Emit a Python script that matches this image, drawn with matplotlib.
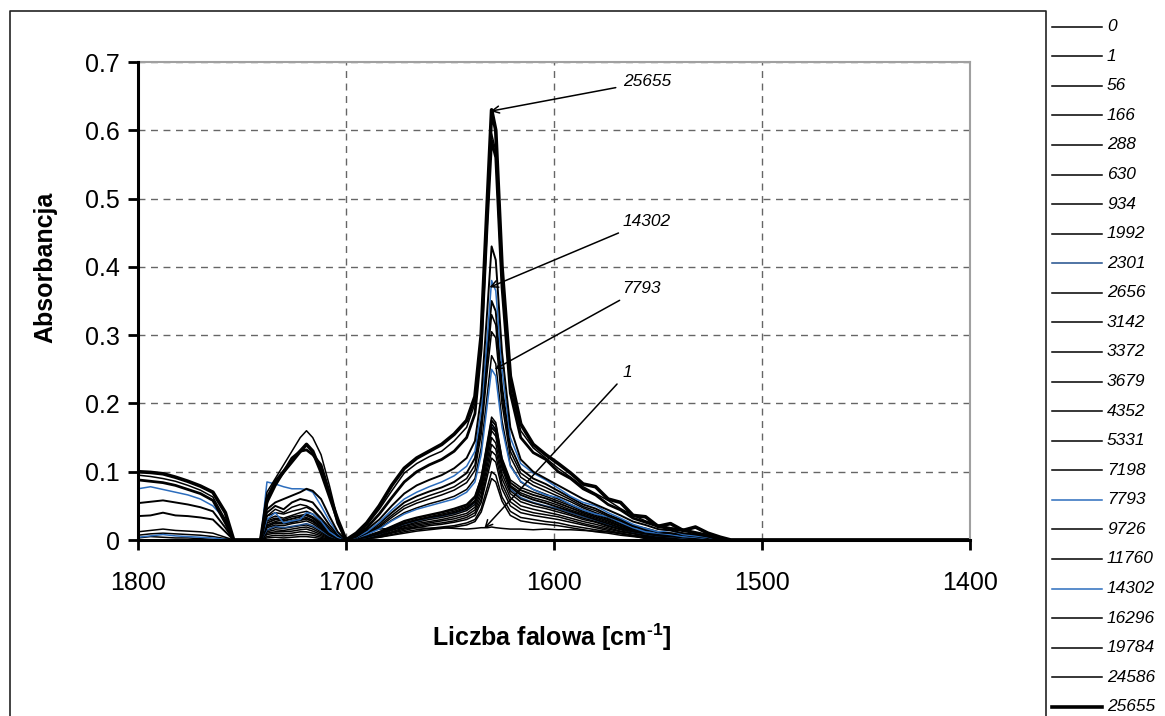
import matplotlib
matplotlib.use('Agg')
import matplotlib.pyplot as plt
from matplotlib.lines import Line2D

plt.rcParams['font.family'] = ['Liberation Sans', 'DejaVu Sans']
plt.rcParams['mathtext.fontset'] = 'custom'
plt.rcParams['mathtext.rm'] = 'Liberation Sans:bold'
plt.rcParams['mathtext.bf'] = 'Liberation Sans:bold'

W, H = 1165, 716

# wavenumber grid (cm-1)
wavenumber = [1800, 1794, 1788, 1782, 1776, 1770, 1764, 1758, 1754,
              1741, 1738, 1734, 1730, 1726, 1722, 1719, 1716, 1712, 1708, 1704,
              1700, 1695, 1690, 1684, 1678, 1672, 1666, 1660, 1654, 1648, 1642, 1638, 1635, 1632, 1630, 1628, 1625, 1621,
              1616, 1610, 1604, 1598, 1592, 1586, 1580, 1574, 1568, 1562, 1556, 1550, 1544, 1538, 1532, 1526, 1520, 1515,
              1400]

s_0 = [0, 0, 0, 0, 0, 0, 0, 0, 0,
       0, 0, 0, 0, 0, 0, 0, 0, 0, 0, 0,
       0, 0, 0, 0, 0, 0, 0, 0, 0, 0, 0, 0, 0, 0, 0, 0, 0, 0,
       0, 0, 0, 0, 0, 0, 0, 0, 0, 0, 0, 0, 0, 0, 0, 0, 0, 0,
       0]
s_1 = [0, 0, 0, 0, 0, 0, 0, 0, 0,
       0, 0, 0, 0, 0, 0, 0, 0, 0, 0, 0,
       0, 0.008, 0.014, 0.016, 0.017, 0.017, 0.018, 0.017, 0.018, 0.017, 0.016, 0.017, 0.018, 0.018, 0.019, 0.018, 0.017, 0.016,
       0.016, 0.015, 0.016, 0.015, 0.015, 0.014, 0.013, 0.012, 0.010, 0.006, 0.002, 0, 0, 0, 0, 0, 0, 0,
       0]
s_56 = [0, 0, 0, 0, 0, 0, 0, 0, 0,
        0, 0.003, 0.004, 0.003, 0.004, 0.005, 0.005, 0.004, 0.002, 0.001, 0,
        0, 0, 0.002, 0.004, 0.007, 0.010, 0.013, 0.015, 0.017, 0.019, 0.022, 0.027, 0.041, 0.070, 0.090, 0.085, 0.057, 0.036,
        0.028, 0.025, 0.023, 0.021, 0.018, 0.015, 0.012, 0.010, 0.007, 0.005, 0.003, 0.002, 0.001, 0.001, 0, 0, 0, 0,
        0]
s_166 = [0, 0, 0, 0, 0, 0, 0, 0, 0,
         0, 0.005, 0.007, 0.006, 0.007, 0.008, 0.008, 0.007, 0.004, 0.001, 0,
         0, 0.001, 0.002, 0.004, 0.008, 0.012, 0.015, 0.017, 0.019, 0.021, 0.025, 0.030, 0.046, 0.078, 0.100, 0.095, 0.063, 0.042,
         0.033, 0.030, 0.027, 0.025, 0.021, 0.018, 0.015, 0.012, 0.009, 0.006, 0.004, 0.002, 0.002, 0.001, 0.001, 0, 0, 0,
         0]
s_288 = [0, 0, 0, 0, 0, 0, 0, 0, 0,
         0, 0.008, 0.010, 0.009, 0.010, 0.012, 0.012, 0.010, 0.006, 0.002, 0,
         0, 0.001, 0.002, 0.005, 0.010, 0.014, 0.018, 0.021, 0.023, 0.026, 0.030, 0.036, 0.055, 0.094, 0.120, 0.114, 0.075, 0.050,
         0.040, 0.036, 0.033, 0.030, 0.026, 0.022, 0.018, 0.014, 0.010, 0.007, 0.005, 0.003, 0.002, 0.002, 0.001, 0, 0, 0,
         0]
s_630 = [0, 0, 0, 0, 0, 0, 0, 0, 0,
         0, 0.010, 0.012, 0.012, 0.013, 0.015, 0.016, 0.013, 0.008, 0.003, 0.001,
         0, 0.001, 0.003, 0.006, 0.011, 0.016, 0.020, 0.023, 0.025, 0.028, 0.033, 0.040, 0.060, 0.102, 0.130, 0.124, 0.082, 0.056,
         0.045, 0.040, 0.037, 0.034, 0.029, 0.024, 0.020, 0.016, 0.012, 0.009, 0.006, 0.004, 0.003, 0.002, 0.001, 0.001, 0, 0,
         0]
s_934 = [0, 0, 0, 0, 0, 0, 0, 0, 0,
         0, 0.012, 0.015, 0.014, 0.016, 0.018, 0.019, 0.016, 0.010, 0.004, 0.001,
         0, 0.001, 0.003, 0.007, 0.012, 0.018, 0.022, 0.025, 0.028, 0.031, 0.036, 0.044, 0.066, 0.110, 0.140, 0.133, 0.090, 0.062,
         0.050, 0.045, 0.041, 0.037, 0.032, 0.027, 0.023, 0.018, 0.013, 0.010, 0.007, 0.005, 0.004, 0.002, 0.001, 0.001, 0, 0,
         0]
s_1992 = [0, 0, 0, 0, 0, 0, 0, 0, 0,
          0, 0.014, 0.018, 0.017, 0.019, 0.021, 0.022, 0.019, 0.012, 0.005, 0.001,
          0, 0.001, 0.004, 0.008, 0.014, 0.020, 0.024, 0.027, 0.030, 0.034, 0.039, 0.048, 0.072, 0.118, 0.150, 0.142, 0.097, 0.068,
          0.056, 0.050, 0.046, 0.041, 0.036, 0.030, 0.026, 0.020, 0.015, 0.011, 0.008, 0.006, 0.005, 0.003, 0.002, 0.001, 0, 0,
          0]
s_2301 = [0, 0, 0, 0, 0, 0, 0, 0, 0,
          0, 0.015, 0.020, 0.018, 0.020, 0.022, 0.024, 0.021, 0.014, 0.006, 0.002,
          0, 0.002, 0.004, 0.009, 0.016, 0.023, 0.028, 0.032, 0.035, 0.039, 0.045, 0.055, 0.085, 0.135, 0.170, 0.160, 0.110, 0.075,
          0.062, 0.055, 0.050, 0.046, 0.040, 0.034, 0.029, 0.022, 0.017, 0.012, 0.009, 0.006, 0.005, 0.003, 0.002, 0.001, 0, 0,
          0]
s_2656 = [0, 0, 0, 0, 0, 0, 0, 0, 0,
          0, 0.018, 0.022, 0.021, 0.024, 0.026, 0.028, 0.024, 0.016, 0.007, 0.002,
          0, 0.002, 0.004, 0.009, 0.015, 0.021, 0.026, 0.030, 0.033, 0.037, 0.043, 0.052, 0.078, 0.126, 0.160, 0.152, 0.105, 0.072,
          0.060, 0.054, 0.049, 0.044, 0.038, 0.032, 0.027, 0.021, 0.016, 0.012, 0.009, 0.006, 0.005, 0.004, 0.002, 0.001, 0, 0,
          0]
s_3142 = [0, 0, 0, 0, 0, 0, 0, 0, 0,
          0, 0.020, 0.025, 0.024, 0.026, 0.029, 0.031, 0.027, 0.018, 0.008, 0.002,
          0, 0.002, 0.005, 0.010, 0.017, 0.024, 0.029, 0.033, 0.036, 0.040, 0.046, 0.056, 0.083, 0.132, 0.165, 0.158, 0.110, 0.078,
          0.066, 0.059, 0.054, 0.048, 0.042, 0.036, 0.030, 0.024, 0.018, 0.013, 0.010, 0.007, 0.006, 0.004, 0.003, 0.001, 0, 0,
          0]
s_3372 = [0, 0, 0, 0, 0, 0, 0, 0, 0,
          0, 0.022, 0.027, 0.025, 0.028, 0.031, 0.033, 0.029, 0.020, 0.009, 0.003,
          0, 0.002, 0.005, 0.010, 0.018, 0.025, 0.030, 0.034, 0.038, 0.042, 0.048, 0.058, 0.086, 0.136, 0.170, 0.162, 0.112, 0.080,
          0.069, 0.062, 0.057, 0.051, 0.044, 0.038, 0.032, 0.026, 0.020, 0.014, 0.011, 0.008, 0.006, 0.004, 0.003, 0.001, 0, 0,
          0]
s_3679 = [0, 0, 0, 0, 0, 0, 0, 0, 0,
          0, 0.025, 0.030, 0.028, 0.031, 0.034, 0.036, 0.032, 0.022, 0.010, 0.003,
          0, 0.002, 0.006, 0.012, 0.020, 0.028, 0.033, 0.037, 0.041, 0.046, 0.052, 0.064, 0.090, 0.140, 0.175, 0.168, 0.117, 0.084,
          0.073, 0.066, 0.061, 0.054, 0.047, 0.040, 0.034, 0.028, 0.021, 0.015, 0.012, 0.009, 0.007, 0.005, 0.003, 0.001, 0, 0,
          0]
s_4352 = [0, 0, 0, 0, 0, 0, 0, 0, 0,
          0, 0.028, 0.032, 0.030, 0.034, 0.036, 0.038, 0.034, 0.024, 0.012, 0.004,
          0, 0.002, 0.005, 0.011, 0.019, 0.027, 0.032, 0.036, 0.040, 0.044, 0.050, 0.062, 0.092, 0.145, 0.180, 0.172, 0.120, 0.088,
          0.077, 0.070, 0.064, 0.057, 0.050, 0.042, 0.036, 0.030, 0.023, 0.016, 0.013, 0.009, 0.008, 0.005, 0.003, 0.001, 0, 0,
          0]
s_5331 = [0.003, 0.005, 0.004, 0.003, 0.003, 0.002, 0.001, 0, 0,
          0, 0.030, 0.035, 0.032, 0.036, 0.040, 0.042, 0.038, 0.026, 0.013, 0.004,
          0, 0.003, 0.008, 0.017, 0.029, 0.040, 0.047, 0.053, 0.058, 0.064, 0.074, 0.090, 0.135, 0.215, 0.270, 0.258, 0.175, 0.110,
          0.085, 0.074, 0.067, 0.060, 0.052, 0.044, 0.038, 0.031, 0.024, 0.017, 0.014, 0.010, 0.009, 0.006, 0.004, 0.002, 0, 0,
          0]
s_7198 = [0.007, 0.009, 0.010, 0.009, 0.008, 0.007, 0.005, 0.002, 0,
          0, 0.035, 0.040, 0.038, 0.042, 0.045, 0.048, 0.043, 0.030, 0.015, 0.005,
          0, 0.003, 0.009, 0.019, 0.033, 0.046, 0.054, 0.060, 0.066, 0.073, 0.084, 0.102, 0.155, 0.250, 0.305, 0.296, 0.200, 0.122,
          0.092, 0.080, 0.072, 0.064, 0.056, 0.047, 0.040, 0.033, 0.026, 0.019, 0.015, 0.010, 0.009, 0.006, 0.005, 0.002, 0, 0,
          0]
s_7793 = [0.004, 0.006, 0.008, 0.006, 0.005, 0.004, 0.003, 0.001, 0,
          0, 0.030, 0.040, 0.025, 0.028, 0.030, 0.040, 0.038, 0.028, 0.012, 0.004,
          0, 0.003, 0.008, 0.016, 0.028, 0.038, 0.045, 0.050, 0.055, 0.060, 0.070, 0.085, 0.125, 0.200, 0.250, 0.240, 0.165, 0.108,
          0.086, 0.074, 0.066, 0.062, 0.052, 0.044, 0.038, 0.034, 0.026, 0.018, 0.012, 0.010, 0.008, 0.005, 0.004, 0.002, 0, 0,
          0]
s_9726 = [0.012, 0.014, 0.016, 0.014, 0.013, 0.012, 0.010, 0.004, 0,
          0, 0.035, 0.045, 0.040, 0.048, 0.052, 0.050, 0.045, 0.032, 0.018, 0.006,
          0, 0.003, 0.010, 0.021, 0.036, 0.050, 0.058, 0.065, 0.071, 0.078, 0.090, 0.110, 0.165, 0.265, 0.330, 0.315, 0.212, 0.130,
          0.098, 0.085, 0.077, 0.068, 0.059, 0.049, 0.043, 0.035, 0.028, 0.020, 0.016, 0.011, 0.010, 0.007, 0.005, 0.003, 0, 0,
          0]
s_11760 = [0.035, 0.036, 0.040, 0.036, 0.035, 0.033, 0.030, 0.012, 0,
           0, 0.040, 0.050, 0.045, 0.055, 0.060, 0.058, 0.055, 0.040, 0.022, 0.008,
           0, 0.004, 0.011, 0.024, 0.040, 0.055, 0.064, 0.071, 0.077, 0.085, 0.098, 0.120, 0.175, 0.280, 0.350, 0.335, 0.225, 0.138,
           0.104, 0.090, 0.082, 0.072, 0.062, 0.052, 0.046, 0.037, 0.030, 0.021, 0.017, 0.012, 0.010, 0.008, 0.006, 0.003, 0, 0,
           0]
s_14302 = [0.075, 0.078, 0.074, 0.070, 0.066, 0.060, 0.050, 0.030, 0,
           0, 0.085, 0.082, 0.078, 0.075, 0.075, 0.074, 0.070, 0.050, 0.028, 0.010,
           0, 0.004, 0.012, 0.026, 0.044, 0.060, 0.070, 0.078, 0.085, 0.094, 0.108, 0.130, 0.190, 0.300, 0.380, 0.365, 0.250, 0.150,
           0.112, 0.098, 0.088, 0.076, 0.064, 0.055, 0.050, 0.040, 0.032, 0.023, 0.017, 0.012, 0.014, 0.008, 0.006, 0.004, 0, 0,
           0]
s_16296 = [0.054, 0.056, 0.058, 0.055, 0.052, 0.048, 0.042, 0.018, 0,
           0, 0.045, 0.055, 0.060, 0.065, 0.070, 0.075, 0.072, 0.060, 0.035, 0.012,
           0, 0.005, 0.015, 0.030, 0.050, 0.068, 0.080, 0.088, 0.095, 0.105, 0.120, 0.145, 0.210, 0.340, 0.430, 0.410, 0.275, 0.165,
           0.118, 0.100, 0.090, 0.080, 0.070, 0.060, 0.052, 0.044, 0.036, 0.027, 0.022, 0.016, 0.014, 0.010, 0.008, 0.005, 0, 0,
           0]
s_19784 = [0.088, 0.086, 0.084, 0.080, 0.074, 0.068, 0.058, 0.025, 0,
           0, 0.055, 0.080, 0.100, 0.120, 0.130, 0.132, 0.125, 0.110, 0.070, 0.025,
           0, 0.006, 0.018, 0.038, 0.062, 0.085, 0.100, 0.110, 0.118, 0.130, 0.150, 0.185, 0.280, 0.470, 0.585, 0.560, 0.370, 0.215,
           0.150, 0.128, 0.118, 0.100, 0.090, 0.075, 0.066, 0.052, 0.044, 0.032, 0.026, 0.020, 0.016, 0.014, 0.010, 0.006, 0.002, 0,
           0]
s_24586 = [0.095, 0.093, 0.090, 0.086, 0.080, 0.073, 0.063, 0.030, 0,
           0, 0.070, 0.090, 0.110, 0.130, 0.150, 0.160, 0.150, 0.125, 0.080, 0.030,
           0, 0.008, 0.022, 0.045, 0.072, 0.098, 0.112, 0.122, 0.130, 0.145, 0.165, 0.200, 0.290, 0.480, 0.595, 0.570, 0.380, 0.225,
           0.160, 0.135, 0.120, 0.105, 0.092, 0.078, 0.068, 0.058, 0.046, 0.036, 0.028, 0.022, 0.018, 0.016, 0.012, 0.008, 0.003, 0,
           0]
s_25655 = [0.100, 0.099, 0.097, 0.092, 0.086, 0.079, 0.070, 0.040, 0,
           0, 0.060, 0.085, 0.100, 0.115, 0.130, 0.140, 0.130, 0.100, 0.065, 0.030,
           0, 0.010, 0.025, 0.050, 0.080, 0.105, 0.120, 0.130, 0.140, 0.155, 0.175, 0.210, 0.300, 0.500, 0.630, 0.600, 0.400, 0.240,
           0.170, 0.140, 0.125, 0.112, 0.098, 0.082, 0.078, 0.060, 0.055, 0.036, 0.034, 0.020, 0.024, 0.014, 0.019, 0.010, 0.004, 0,
           0]

labels = ['0', '1', '56', '166', '288', '630', '934', '1992', '2301', '2656', '3142', '3372',
          '3679', '4352', '5331', '7198', '7793', '9726', '11760', '14302', '16296', '19784', '24586', '25655']
series = [s_0, s_1, s_56, s_166, s_288, s_630, s_934, s_1992, s_2301, s_2656, s_3142, s_3372,
          s_3679, s_4352, s_5331, s_7198, s_7793, s_9726, s_11760, s_14302, s_16296, s_19784, s_24586, s_25655]

blue_dark, blue = '#1f4e8c', '#2c6dbd'
line_colors = {'2301': blue_dark, '7793': blue, '14302': blue}
line_widths = {'3142': 1.4, '3679': 1.4, '11760': 1.4, '16296': 1.4, '19784': 2.0, '25655': 2.6}

for lab, s in zip(labels, series):
    if len(s) != len(wavenumber):
        raise ValueError(f'{lab}: {len(s)} != {len(wavenumber)}')

fig = plt.figure(figsize=(W / 100, H / 100), dpi=100)
ax = fig.add_axes([138 / W, 1 - 540 / H, (970 - 138) / W, (540 - 62) / H])

for lab, s in zip(labels, series):
    ax.plot(wavenumber, s, color=line_colors.get(lab, 'black'), lw=line_widths.get(lab, 1.1), zorder=2)

ax.set_xlim(1800, 1400)
ax.set_ylim(0, 0.7)
ax.set_xticks([1800, 1700, 1600, 1500, 1400])
ax.set_yticks([0, 0.1, 0.2, 0.3, 0.4, 0.5, 0.6, 0.7])
ax.set_yticklabels(['0', '0.1', '0.2', '0.3', '0.4', '0.5', '0.6', '0.7'])
ax.grid(True, color='#666666', lw=1, linestyle=(0, (5, 4)), zorder=1)
ax.set_axisbelow(True)

for side in ['left', 'bottom']:
    ax.spines[side].set_linewidth(2.2)
    ax.spines[side].set_color('black')
    ax.spines[side].set_zorder(3)
for side in ['top', 'right']:
    ax.spines[side].set_linewidth(1.5)
    ax.spines[side].set_color('#a0a0a0')

ax.tick_params(axis='both', direction='out', length=7, width=2, labelsize=18, colors='black')
ax.tick_params(axis='y', pad=6)
ax.tick_params(axis='x', pad=15)

fig.text(45 / W, 1 - 267 / H, 'Absorbancja', rotation=90, ha='center', va='center',
         fontsize=18, fontweight='bold')
fig.text(552 / W, 1 - 637 / H, r'Liczba falowa [cm$^{\text{-1}}$]', ha='center', va='center',
         fontsize=18, fontweight='bold')

# arrows pointing at selected spectra
notes = [('25655', 1630.5, 0.628, 0.671),
         ('14302', 1631.0, 0.370, 0.467),
         ('7793', 1628.5, 0.250, 0.369),
         ('1', 1633.5, 0.017, 0.245)]
for text, xp, yp, ty in notes:
    ax.annotate(text, xy=(xp, yp), xytext=(1567, ty), fontsize=12.5, style='italic',
                ha='left', va='center',
                arrowprops=dict(arrowstyle='->', color='black', lw=1.1, shrinkA=3, shrinkB=0))

# frame of the chart area and the legend box
fig.add_artist(Line2D([10 / W, 10 / W, 1046 / W, 1046 / W], [0, 1 - 11 / H, 1 - 11 / H, 0],
                      transform=fig.transFigure, color='#222222', lw=1.2))

for i, lab in enumerate(labels):
    y = 1 - (26.7 + i * 29.57) / H
    fig.add_artist(Line2D([1052 / W, 1102 / W], [y, y], transform=fig.transFigure,
                          color=line_colors.get(lab, 'black'),
                          lw=line_widths.get(lab, 1.1) if lab == '25655' else 1.1))
    fig.text(1107 / W, y, lab, ha='left', va='center', fontsize=12.5, style='italic')

fig.savefig('out.png', dpi=100)
